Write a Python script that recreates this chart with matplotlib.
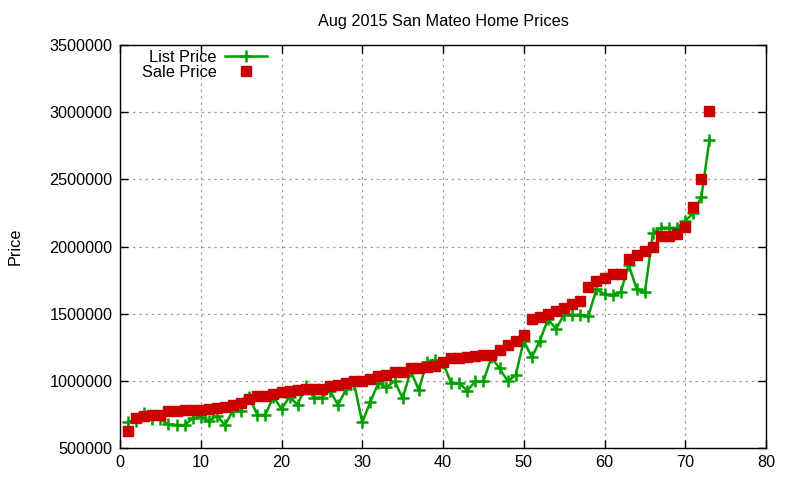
import matplotlib
matplotlib.use("Agg")
import matplotlib.pyplot as plt
from matplotlib.ticker import MultipleLocator

plt.rcParams['font.family'] = ['Liberation Sans', 'DejaVu Sans']

index = list(range(1, 74))

list_price = [696000, 700000, 758000, 714000, 715000, 675000, 671000, 671000, 721000, 728000,
              701000, 738000, 671000, 778000, 776000, 882000, 746000, 746000, 882000, 790000,
              882000, 820000, 965000, 875000, 875000, 927000, 820000, 937000, 976000, 691000,
              842000, 986000, 952000, 999000, 870000, 1073000, 932000, 1140000, 1155000, 1135000,
              984000, 984000, 927000, 996000, 996000, 1175000, 1093000, 999000, 1041000, 1299000,
              1175000, 1299000, 1458000, 1388000, 1492000, 1492000, 1492000, 1483000, 1681000, 1644000,
              1637000, 1659000, 1862000, 1681000, 1659000, 2098000, 2140000, 2140000, 2138000, 2192000,
              2247000, 2371000, 2795000]

sale_price = [629000, 726000, 738000, 748000, 748000, 778000, 779000, 780000, 780000, 782000,
              793000, 797000, 808000, 818000, 837000, 867000, 889000, 889000, 899000, 914000,
              921000, 932000, 936000, 936000, 936000, 965000, 972000, 985000, 995000, 1002000,
              1012000, 1035000, 1042000, 1062000, 1065000, 1092000, 1095000, 1105000, 1112000, 1142000,
              1170000, 1172000, 1177000, 1183000, 1190000, 1192000, 1230000, 1269000, 1299000, 1343000,
              1462000, 1477000, 1500000, 1522000, 1544000, 1574000, 1596000, 1698000, 1745000, 1768000,
              1797000, 1797000, 1907000, 1939000, 1966000, 1996000, 2078000, 2080000, 2093000, 2147000,
              2296000, 2502000, 3011000]

FS = 11.7

fig = plt.figure(figsize=(8, 4.8), dpi=100)
ax = fig.add_axes([0.15, 0.0667, 0.8075, 0.8395])

ax.plot(index, list_price, color='#00a000', lw=1.8, marker='+', markersize=9,
        markeredgewidth=1.8, label='List Price', zorder=3)
ax.plot(index, sale_price, color='#cc0000', lw=0, marker='s', markersize=6.5,
        label='Sale Price', zorder=4)

ax.set_xlim(0, 80)
ax.set_ylim(500000, 3500000)
ax.xaxis.set_major_locator(MultipleLocator(10))
ax.yaxis.set_major_locator(MultipleLocator(500000))
ax.ticklabel_format(style='plain', axis='y')
ax.grid(True, color='#a0a0a0', linestyle=(0, (2, 3)), lw=0.9)
ax.tick_params(direction='in', top=True, right=True, labelsize=FS, length=6, width=1)
ax.tick_params(axis='x', pad=5)
ax.tick_params(axis='y', pad=5.5)
for s in ax.spines.values():
    s.set_linewidth(1)

ax.set_title('Aug 2015 San Mateo Home Prices', fontsize=FS, pad=14)
ax.set_ylabel('Price', fontsize=FS, labelpad=19)

leg = ax.legend(loc='upper left', bbox_to_anchor=(0.0186, 1.012), frameon=False,
                markerfirst=False, fontsize=FS, handlelength=2.6, handletextpad=0.5,
                labelspacing=0.0, borderaxespad=0.2)
for t in leg.get_texts():
    t.set_ha('right')

fig.savefig('out.png', dpi=100)
